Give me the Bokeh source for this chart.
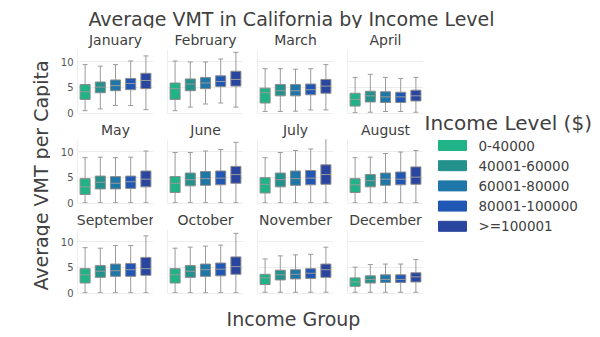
import math
from bokeh.plotting import figure
from bokeh.layouts import column, row
from bokeh.models import Range1d, FixedTicker, Span, ColumnDataSource
from bokeh.embed import file_html
from bokeh.resources import INLINE
from bokeh.core.properties import value

# ---------------- data ----------------
months = ["January", "February", "March", "April",
          "May", "June", "July", "August",
          "September", "October", "November", "December"]
groups = ["0-40000", "40001-60000", "60001-80000", "80001-100000", ">=100001"]
colors = ["#1fb387", "#23918c", "#1f76a8", "#2057b5", "#2a459f"]

box_low = {
    "January": [2.6, 3.9, 4.3, 4.5, 4.7],
    "February": [2.6, 4.3, 4.7, 5.1, 5.2],
    "March": [1.9, 3.3, 3.3, 3.5, 3.8],
    "April": [1.3, 2.1, 2.0, 2.0, 2.3],
    "May": [1.6, 2.7, 2.7, 2.8, 3.1],
    "June": [2.0, 3.3, 3.4, 3.5, 3.8],
    "July": [1.9, 3.1, 3.4, 3.5, 3.6],
    "August": [2.0, 3.1, 3.4, 3.5, 3.6],
    "September": [1.9, 3.0, 3.2, 3.2, 3.4],
    "October": [1.9, 3.0, 3.2, 3.3, 3.6],
    "November": [1.6, 2.5, 2.7, 2.8, 3.0],
    "December": [1.25, 1.9, 2.0, 2.0, 2.1],
}
box_mid = {
    "January": [4.1, 5.0, 5.3, 5.7, 6.3],
    "February": [4.7, 5.6, 5.8, 6.1, 6.5],
    "March": [3.9, 4.3, 4.3, 4.5, 5.2],
    "April": [2.6, 3.3, 3.1, 3.1, 3.3],
    "May": [3.1, 4.0, 3.8, 4.1, 4.6],
    "June": [3.8, 4.5, 4.7, 4.8, 5.5],
    "July": [3.6, 4.5, 4.7, 4.8, 5.5],
    "August": [3.5, 4.3, 4.6, 4.6, 5.0],
    "September": [3.5, 4.2, 4.3, 4.5, 4.7],
    "October": [3.5, 4.2, 4.5, 4.6, 5.1],
    "November": [2.9, 3.5, 3.6, 3.8, 4.5],
    "December": [2.1, 2.6, 2.6, 2.6, 3.1],
}
box_high = {
    "January": [5.5, 6.0, 6.4, 6.7, 7.7],
    "February": [5.8, 6.6, 6.9, 7.2, 8.1],
    "March": [4.8, 5.5, 5.5, 5.6, 6.5],
    "April": [3.8, 4.2, 4.1, 4.0, 4.4],
    "May": [4.7, 5.2, 5.1, 5.2, 6.2],
    "June": [5.1, 5.8, 6.1, 6.2, 7.1],
    "July": [4.9, 5.8, 6.2, 6.3, 7.4],
    "August": [4.7, 5.5, 5.8, 6.0, 7.0],
    "September": [4.7, 5.3, 5.6, 5.7, 6.9],
    "October": [4.7, 5.3, 5.6, 5.8, 7.0],
    "November": [3.6, 4.4, 4.5, 4.7, 5.6],
    "December": [2.9, 3.3, 3.5, 3.5, 3.9],
}
whisker_low = {
    "January": [0.4, 0.75, 1.4, 1.4, 0.6],
    "February": [0.4, 1.1, 1.7, 1.9, 1.1],
    "March": [0.25, 0.25, 0.3, 0.55, 0.55],
    "April": [0.0, 0.1, 0.25, 0.25, 0.1],
    "May": [0.0, 0.0, 0.0, 0.0, 0.0],
    "June": [0.0, 0.0, 0.0, 0.0, 0.0],
    "July": [0.0, 0.0, 0.0, 0.0, 0.0],
    "August": [0.0, 0.0, 0.0, 0.0, 0.0],
    "September": [0.0, 0.0, 0.0, 0.0, 0.0],
    "October": [0.0, 0.0, 0.0, 0.0, 0.0],
    "November": [0.1, 0.1, 0.1, 0.1, 0.1],
    "December": [0.1, 0.1, 0.1, 0.1, 0.1],
}
whisker_high = {
    "January": [9.4, 9.1, 9.4, 10.1, 11.1],
    "February": [10.1, 9.9, 9.9, 10.5, 11.8],
    "March": [8.6, 8.6, 8.5, 8.6, 9.4],
    "April": [6.9, 7.5, 6.9, 6.7, 6.9],
    "May": [8.8, 8.9, 8.8, 8.9, 10.1],
    "June": [9.8, 9.8, 10.1, 10.4, 11.8],
    "July": [8.8, 9.8, 10.2, 10.5, 12.5],
    "August": [8.8, 8.9, 9.6, 9.9, 10.2],
    "September": [8.8, 8.7, 9.2, 9.2, 11.1],
    "October": [8.7, 8.9, 9.1, 9.3, 11.6],
    "November": [6.6, 7.2, 7.4, 7.5, 8.9],
    "December": [5.0, 5.5, 5.6, 5.6, 6.5],
}
y_ticks = [0, 5, 10]

# ---------------- style ----------------
FONT = "DejaVu Sans"
TXT = "#404040"
GRAY = "#9a9a9a"
EDGE = "#8a8a8a"
SPINE = "#dedede"
GRID = "#ececec"
BOX_W = 0.66
CAP_W = 0.33
FRAME_W, FRAME_H = 76, 66
GAP = 14
FIRST_LEFT = 27
TOP = 19
BOTTOM = 5
Y0, Y1 = -0.15, 12.35


def blank(w, h):
    p = figure(width=w, height=h, x_range=Range1d(0, w), y_range=Range1d(0, h),
               output_backend="svg", toolbar_location=None, min_border=0)
    p.xaxis.visible = False
    p.yaxis.visible = False
    p.grid.visible = False
    p.outline_line_color = None
    return p


def panel(month, col):
    left = FIRST_LEFT if col == 0 else GAP
    p = figure(width=left + FRAME_W, height=TOP + FRAME_H + BOTTOM,
               x_range=Range1d(-0.5, 4.5), y_range=Range1d(Y0, Y1),
               output_backend="svg", toolbar_location=None, title=month,
               min_border_left=left, min_border_right=0,
               min_border_top=TOP, min_border_bottom=BOTTOM)
    p.title.align = "center"
    p.title.text_font = FONT
    p.title.text_font_size = "14px"
    p.title.text_font_style = "normal"
    p.title.text_color = TXT
    p.title.standoff = 3
    p.outline_line_color = None
    p.xaxis.visible = False
    if col == 0:
        ax = p.yaxis[0]
        ax.ticker = FixedTicker(ticks=y_ticks)
        ax.axis_line_color = None
        ax.major_tick_line_color = None
        ax.minor_tick_line_color = None
        ax.major_tick_out = 0
        ax.major_tick_in = 0
        ax.major_label_standoff = 4
        ax.major_label_text_font = FONT
        ax.major_label_text_font_size = "10px"
        ax.major_label_text_color = "#555555"
    else:
        p.yaxis.visible = False
    p.xgrid.visible = False
    p.ygrid.ticker = FixedTicker(ticks=[5, 10])
    p.ygrid.grid_line_color = GRID
    p.add_layout(Span(location=-0.5, dimension="height", line_color=SPINE, line_width=1))
    p.add_layout(Span(location=Y0, dimension="width", line_color=SPINE, line_width=1))

    xs = list(range(len(groups)))
    src = ColumnDataSource(dict(
        x=xs,
        cap_l=[x - CAP_W / 2 for x in xs], cap_r=[x + CAP_W / 2 for x in xs],
        box_l=[x - BOX_W / 2 for x in xs], box_r=[x + BOX_W / 2 for x in xs],
        q1=box_low[month], med=box_mid[month], q3=box_high[month],
        lo=whisker_low[month], hi=whisker_high[month], color=colors))
    p.segment(x0="x", y0="q3", x1="x", y1="hi", source=src, line_color=GRAY, line_width=1)
    p.segment(x0="x", y0="lo", x1="x", y1="q1", source=src, line_color=GRAY, line_width=1)
    p.segment(x0="cap_l", y0="hi", x1="cap_r", y1="hi", source=src, line_color=GRAY, line_width=1)
    p.segment(x0="cap_l", y0="lo", x1="cap_r", y1="lo", source=src, line_color=GRAY, line_width=1)
    p.vbar(x="x", width=BOX_W, bottom="q1", top="q3", source=src,
           fill_color="color", line_color=EDGE, line_width=1)
    p.segment(x0="box_l", y0="med", x1="box_r", y1="med", source=src,
              line_color=GRAY, line_width=1)
    return p


rows = []
for r in range(3):
    rows.append(row(*[panel(months[r * 4 + c], c) for c in range(4)], spacing=0))
grid = column(*rows, spacing=0)
GRID_H = 3 * (TOP + FRAME_H + BOTTOM)

# title
TITLE_H = 28
title_fig = blank(600, TITLE_H)
title_fig.text(x=[291], y=[TITLE_H - 18], text=["Average VMT in California by Income Level"],
               text_font=value(FONT), text_font_size="19px", text_align="center",
               text_baseline="middle", text_color=TXT)

# y label
ylab = blank(50, GRID_H)
ylab.text(x=[40], y=[GRID_H - (175 - TITLE_H)], text=["Average VMT per Capita"],
          angle=math.pi / 2, text_font=value(FONT), text_font_size="19px",
          text_align="center", text_baseline="middle", text_color=TXT)

# legend
leg = blank(177, GRID_H)
leg.text(x=[1], y=[GRID_H - (122 - TITLE_H)], text=["Income Level ($)"], text_font=value(FONT),
         text_font_size="20px", text_align="left", text_baseline="middle", text_color=TXT)
leg_y = [GRID_H - (145 - TITLE_H) - 20.2 * i for i in range(len(groups))]
leg.rect(x=[29] * len(groups), y=leg_y, width=28, height=10,
         fill_color=colors, line_color=colors)
leg.text(x=[55] * len(groups), y=leg_y, text=groups, text_font=value(FONT),
         text_font_size="13.5px", text_align="left", text_baseline="middle", text_color=TXT)

# x label
XLAB_H = 337 - TITLE_H - GRID_H
xlab = blank(600, XLAB_H)
xlab.text(x=[293], y=[XLAB_H - (318 - TITLE_H - GRID_H)], text=["Income Group"],
          text_font=value(FONT), text_font_size="19px", text_align="center",
          text_baseline="middle", text_color=TXT)

layout = column(title_fig, row(ylab, grid, leg, spacing=0), xlab, spacing=0)

open("out.html", "w").write(file_html(layout, INLINE))
